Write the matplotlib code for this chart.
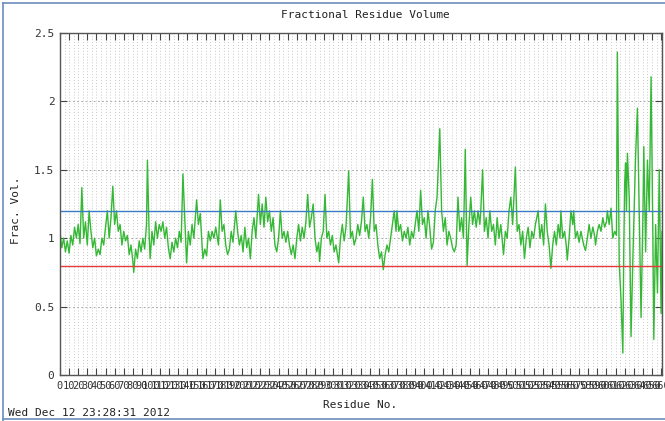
import numpy as np
import matplotlib.pyplot as plt
from matplotlib.lines import Line2D

# residue number and fractional volume
residue = [
    0, 2, 4, 6, 8, 10, 12, 14, 16, 18, 20, 22, 24, 26, 28, 30,
    32, 34, 36, 38, 40, 42, 44, 46, 48, 50, 52, 54, 56, 58, 60, 62,
    64, 66, 68, 70, 72, 74, 76, 78, 80, 81, 83, 85, 87, 89, 91, 93,
    95, 96, 98, 99, 101, 103, 105, 107, 109, 111, 113, 115, 117, 119, 121, 123,
    125, 127, 129, 131, 133, 135, 137, 139, 141, 143, 145, 147, 150, 152, 154, 156,
    157, 159, 161, 163, 165, 167, 169, 171, 174, 176, 178, 180, 182, 184, 186, 188,
    190, 193, 195, 197, 199, 201, 203, 205, 207, 209, 211, 213, 215, 218, 220, 222,
    224, 226, 228, 230, 232, 234, 236, 238, 240, 242, 244, 246, 248, 250, 252, 254,
    256, 258, 260, 262, 264, 266, 268, 270, 272, 274, 276, 278, 280, 282, 284, 285,
    287, 289, 291, 293, 295, 297, 299, 301, 303, 306, 308, 310, 312, 314, 317, 319,
    321, 323, 325, 327, 329, 331, 333, 335, 337, 339, 341, 343, 345, 347, 349, 351,
    353, 355, 357, 359, 361, 363, 365, 367, 369, 370, 372, 374, 376, 378, 380, 382,
    384, 386, 388, 390, 392, 394, 396, 398, 400, 402, 404, 406, 408, 410, 412, 414,
    417, 419, 421, 423, 425, 427, 429, 431, 433, 435, 437, 439, 441, 443, 445, 447,
    449, 451, 453, 455, 457, 459, 461, 462, 464, 466, 468, 470, 472, 474, 476, 478,
    480, 482, 484, 487, 489, 491, 493, 495, 497, 500, 502, 504, 506, 508, 510, 512,
    514, 516, 518, 520, 522, 525, 527, 529, 531, 533, 535, 537, 539, 541, 543, 545,
    547, 549, 550, 552, 554, 556, 557, 559, 561, 563, 564, 566, 568, 570, 572, 575,
    577, 579, 581, 583, 585, 587, 588, 590, 592, 594, 596, 598, 600, 601, 603, 605,
    607, 609, 611, 612, 614, 616, 618, 619, 620, 621, 622, 623, 625, 627, 629, 630,
    632, 634, 636, 638, 640, 641, 643, 645, 647, 649, 651, 652, 654, 656, 658, 659,
    660, 661,
]
frac_vol = [
    1.05, 0.93, 1.0, 0.9, 0.98, 0.89, 1.02, 0.95, 1.08, 1.0, 1.1, 0.96, 1.37, 1.0, 1.12, 0.95,
    1.2, 1.05, 0.93, 1.0, 0.87, 0.92, 0.88, 1.0, 0.95, 1.08, 1.2, 1.0, 1.15, 1.38, 1.1, 1.2,
    1.05, 1.1, 0.95, 1.05, 0.98, 1.02, 0.88, 0.95, 0.83, 0.75, 0.92, 0.85, 0.98, 0.9, 1.0, 0.92,
    1.1, 1.57, 1.0, 0.85, 1.05, 0.95, 1.12, 1.0, 1.1, 1.05, 1.12, 1.0, 1.08, 0.93, 0.85, 0.97,
    0.9, 1.0, 0.93, 1.05, 0.97, 1.47, 1.15, 0.82, 1.05, 0.95, 1.1, 1.0, 1.28, 1.1, 1.18, 0.95,
    0.85, 0.92, 0.87, 1.05, 0.98, 1.05, 1.0, 1.08, 0.95, 1.28, 1.05, 1.1, 0.95, 0.88, 0.92, 1.05,
    0.97, 1.2, 1.05, 0.95, 1.02, 0.9, 1.08, 0.93, 1.0, 0.85, 1.05, 1.15, 1.0, 1.32, 1.1, 1.25,
    1.08, 1.3, 1.12, 1.2, 1.05, 1.15, 0.95, 0.9, 1.0, 1.2, 1.0, 1.05, 0.97, 1.05, 0.95, 0.88,
    0.95, 0.85, 1.0, 1.1, 0.98, 1.08, 1.0, 1.12, 1.32, 1.08, 1.15, 1.25, 1.0, 0.9, 0.97, 0.83,
    1.0, 1.05, 1.32, 1.0, 1.05, 0.95, 1.02, 0.9, 0.95, 0.82, 1.0, 1.1, 0.98, 1.08, 1.49, 1.0,
    1.05, 0.95, 1.0, 1.1, 1.02, 1.12, 1.3, 1.05, 1.1, 1.0, 1.15, 1.43, 1.05, 1.1, 0.95, 0.85,
    0.9, 0.77, 0.88, 0.95, 0.9, 1.0, 1.1, 1.2, 1.05, 1.2, 1.05, 1.1, 0.98, 1.05, 1.0, 1.08,
    0.95, 1.05, 1.0, 1.1, 1.2, 1.05, 1.35, 1.1, 1.15, 1.0, 1.2, 1.08, 0.92, 0.97, 1.2, 1.3,
    1.8, 1.2, 1.05, 1.15, 0.95, 1.05, 1.0, 0.93, 0.9, 0.95, 1.3, 1.05, 1.15, 1.0, 1.65, 0.8,
    1.1, 1.3, 1.1, 1.2, 1.08, 1.2, 1.1, 1.2, 1.5, 1.05, 1.15, 1.0, 1.2, 1.05, 1.1, 0.95,
    1.15, 1.0, 1.1, 0.88, 1.05, 1.0, 1.2, 1.3, 1.1, 1.52, 1.05, 1.1, 0.95, 1.05, 0.85, 1.0,
    1.08, 0.93, 1.05, 1.0, 1.1, 1.2, 1.0, 1.1, 0.95, 1.25, 1.05, 0.95, 0.78, 0.95, 1.05, 0.95,
    1.1, 1.0, 1.2, 1.0, 1.05, 0.94, 0.84, 1.0, 1.2, 1.1, 1.2, 1.0, 1.05, 0.97, 1.05, 0.95,
    0.91, 1.0, 1.1, 1.0, 1.08, 1.02, 0.95, 1.05, 1.1, 1.05, 1.15, 1.08, 1.12, 1.2, 1.1, 1.22,
    1.0, 1.05, 1.02, 2.36, 0.82, 0.55, 0.16, 0.9, 1.4, 1.55, 1.2, 1.62, 1.3, 0.28, 0.85, 1.1,
    1.6, 1.95, 1.2, 0.42, 1.15, 1.67, 0.9, 1.57, 1.2, 2.18, 1.0, 0.26, 1.1, 0.6, 1.5, 1.0,
    0.45, 1.05,
]
upper_limit = 1.2
lower_limit = 0.8
x_ticks = list(range(0, 661, 10))
y_ticks = [0, 0.5, 1, 1.5, 2, 2.5]
y_tick_labels = ['0', '0.5', '1', '1.5', '2', '2.5']

mono = 'DejaVu Sans Mono'

fig = plt.figure(figsize=(6.65, 4.21), dpi=100)
ax = fig.add_axes([0.0902, 0.1093, 0.9053, 0.8124])

ax.plot(residue, frac_vol, color='#35b835', lw=1.0)
ax.axhline(upper_limit, color='#3a7cc4', lw=1.0)
ax.axhline(lower_limit, color='#e53a3a', lw=1.0)

ax.set_xlim(0, 661)
ax.set_ylim(0, 2.5)

ax.set_xticks(x_ticks)
ax.set_xticklabels([str(t) for t in x_ticks], fontsize=7.5, family=mono, color='#333333')
ax.set_xticks(list(range(5, 661, 10)), minor=True)
ax.set_yticks(y_ticks)
ax.set_yticklabels(y_tick_labels, fontsize=8, family=mono, color='#333333')
ax.tick_params(axis='both', which='major', direction='in', length=5, width=0.8,
               top=True, right=True, color='#444444', pad=4)
ax.tick_params(axis='x', which='minor', length=0)

ax.grid(True, axis='x', which='both', color='#b8b8b8', ls=(0, (1, 2.5)), lw=0.6)
ax.grid(True, axis='y', which='major', color='#999999', ls=(0, (2, 3)), lw=0.6)

for s in ax.spines.values():
    s.set_color('#555555')
    s.set_linewidth(1.0)

fig.text(365 / 665, 1 - 15 / 421, 'Fractional Residue Volume', ha='center', va='center',
         fontsize=8, family=mono, color='#222222')
fig.text(360 / 665, 1 - 405 / 421, 'Residue No.', ha='center', va='center',
         fontsize=8, family=mono, color='#222222')
fig.text(16 / 665, 1 - 210 / 421, 'Frac. Vol.', ha='center', va='center', rotation=90,
         fontsize=8, family=mono, color='#222222')
fig.text(8 / 665, 1 - 413 / 421, 'Wed Dec 12 23:28:31 2012', ha='left', va='center',
         fontsize=8, family=mono, color='#222222')

# screenshot frame
frame_col = '#6d8dbb'
fig.add_artist(Line2D([3 / 665, 3 / 665], [0, 1 - 3 / 421], color=frame_col, lw=1.2))
fig.add_artist(Line2D([3 / 665, 1], [1 - 3 / 421, 1 - 3 / 421], color=frame_col, lw=1.2))
fig.add_artist(Line2D([3 / 665, 1], [1 - 419 / 421, 1 - 419 / 421], color=frame_col, lw=1.2))

fig.savefig('out.png', dpi=100)
